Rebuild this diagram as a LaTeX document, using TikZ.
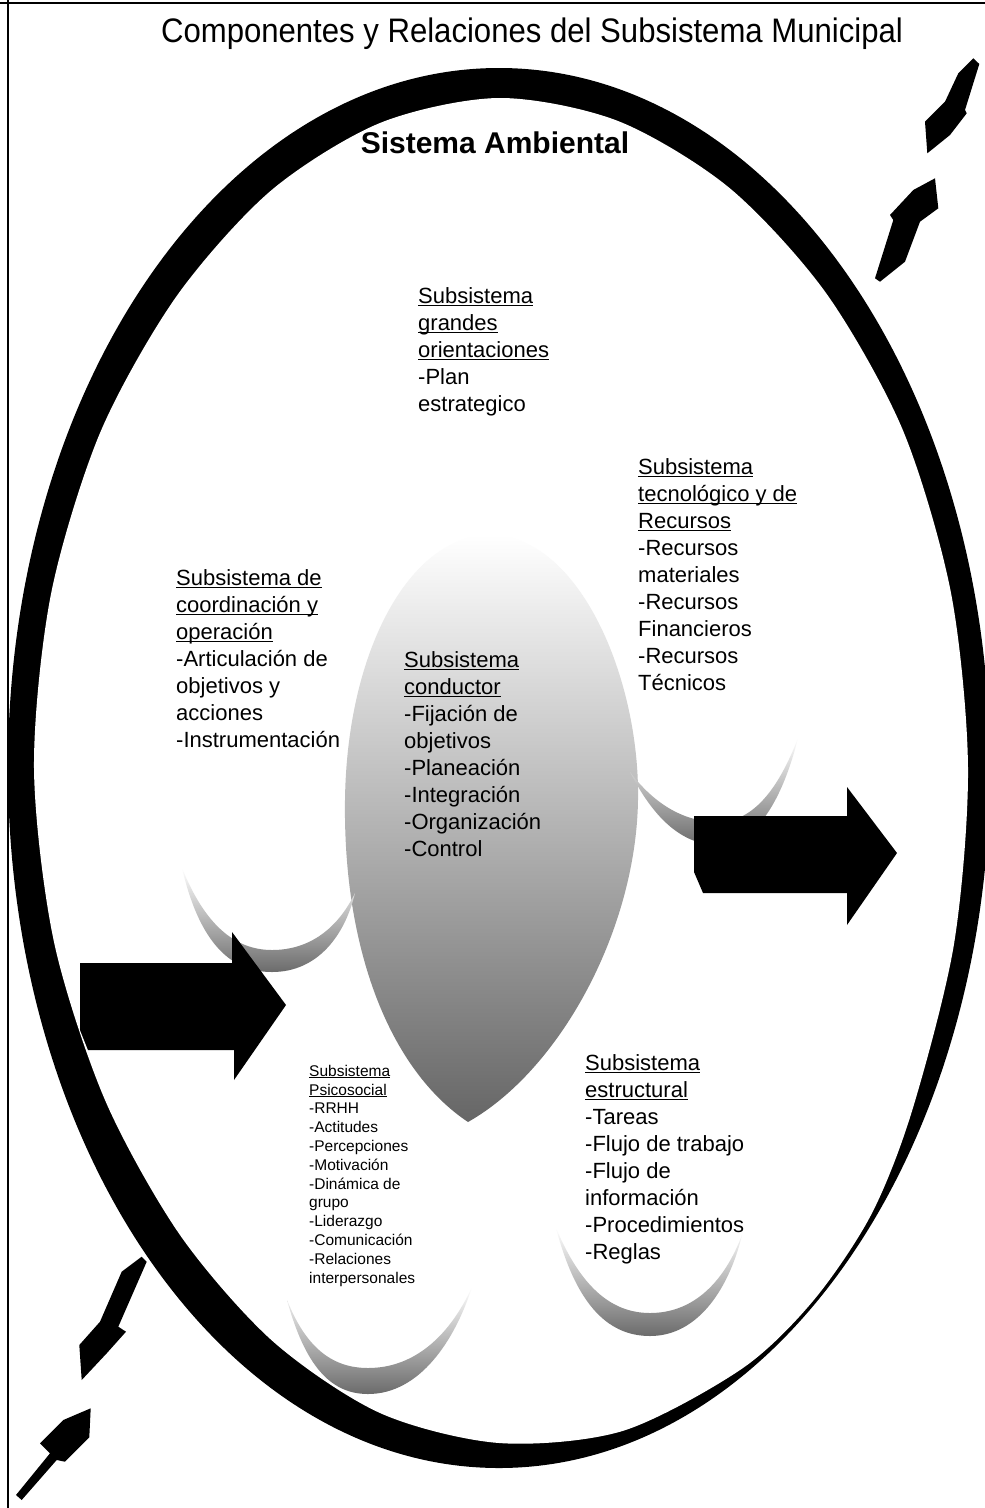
\documentclass[tikz,border=0pt]{standalone}
\usepackage{fontspec}
\usepackage{graphicx}
\setmainfont{Liberation Sans}
\newcommand\ulx[1]{\setbox0\hbox{#1}\rlap{\rule[-0.14em]{\wd0}{0.065em}}\box0}
\begin{document}
\begin{tikzpicture}[x=1pt,y=-1pt,
  body/.style={anchor=base west, align=left, font=\fontsize{22}{27}\selectfont, inner sep=0pt},
  small/.style={anchor=base west, align=left, font=\fontsize{15.5}{18.8}\selectfont, inner sep=0pt},
  bowl/.style={top color=white, bottom color=black!58},
  blk/.style={fill=black}]
\useasboundingbox (0,0) rectangle (985,1508);
\fill[white] (0,0) rectangle (985,1508);
\draw[line width=1.5pt] (0,3) -- (985,3);
\draw[line width=1.5pt] (8,0) -- (8,1508);
% environment ring (crescent)
\fill[black] (499,768) ellipse [x radius=491, y radius=700];
\fill[white] plot[smooth cycle] coordinates {(968,768) (954,944) (912,1111) (871,1215) (813,1301) (741.5,1369) (622.5,1431) (499,1443) (380,1413) (272.5,1341) (180,1235) (105,1100) (54,942) (34,768) (51,594) (100,433) (176,297) (270.5,191) (380,123) (499,98) (618,121) (729.5,188) (826,293) (903,430.5) (951,593)};
% central shape
\shade[top color=white, middle color=black!36, bottom color=black!60] (468,1122) .. controls (390,1070) and (343,950) .. (345,800) .. controls (347,650) and (410,535) .. (490,535) .. controls (580,535) and (640,680) .. (638,800) .. controls (636,930) and (560,1070) .. (468,1122) -- cycle;
% bowls
\shade[bowl] (182,868) .. controls (200,945) and (232,972) .. (272,972) .. controls (318,972) and (345,935) .. (355,893) .. controls (338,928) and (310,950) .. (272,950) .. controls (235,950) and (205,925) .. (182,868) -- cycle;
\shade[bowl] (630,772) .. controls (652,815) and (680,845) .. (718,845) .. controls (760,845) and (785,790) .. (798,738) .. controls (780,785) and (755,822) .. (718,822) .. controls (685,822) and (655,805) .. (630,772) -- cycle;
\shade[bowl] (287,1300) .. controls (305,1365) and (330,1394) .. (368,1394) .. controls (420,1394) and (455,1340) .. (472,1287) .. controls (450,1335) and (415,1368) .. (368,1368) .. controls (330,1368) and (305,1345) .. (287,1300) -- cycle;
\shade[bowl] (556,1228) .. controls (575,1300) and (605,1336) .. (650,1336) .. controls (700,1336) and (730,1285) .. (742,1235) .. controls (725,1280) and (695,1313) .. (650,1313) .. controls (610,1313) and (580,1285) .. (556,1228) -- cycle;
% big arrows
\fill[blk] (80,963) -- (232,963) -- (232,932) -- (286,1005) -- (234,1080) -- (234,1050) -- (88,1050) -- (80,1030) -- cycle;
\fill[blk] (694,816) -- (847,816) -- (847,787) -- (897,853) -- (847,925) -- (847,893) -- (703,893) -- (694,872) -- cycle;
% small arrows top right
\fill[blk] (973.3,58.3) -- (979.3,64) -- (965,110) -- (966.7,113.3) -- (950,135) -- (927.3,153.3) -- (925,121.7) -- (945,101.7) -- (958.3,73.3) -- cycle;
\fill[blk] (935,178.3) -- (938.3,208.3) -- (920,221.7) -- (905,261.7) -- (880,281.7) -- (875,278.3) -- (893.3,220) -- (890,215) -- (913.3,190) -- cycle;
% small arrows bottom left
\fill[blk] (141.7,1256.7) -- (146.7,1261.7) -- (118.3,1326.7) -- (126,1331.7) -- (106.7,1353.3) -- (81.7,1380) -- (79.3,1345) -- (100,1321.7) -- (121.7,1271.7) -- cycle;
\fill[blk] (90.7,1408.3) -- (89.3,1437.3) -- (65,1461.7) -- (56.7,1460) -- (21.7,1500) -- (16,1495) -- (50,1453.3) -- (40,1443.3) -- (63.3,1420) -- cycle;
% texts (anchor = baseline of the last line)
\node[anchor=base, inner sep=0pt, font=\fontsize{34}{40}\selectfont] (title) at (532,42) {\scalebox{0.915}[1]{Componentes y Relaciones del Subsistema Municipal}};
\node[anchor=base, inner sep=0pt, font=\bfseries\fontsize{30}{36}\selectfont] (amb) at (495,153) {Sistema Ambiental};
\node[body] (gran) at (418,411) {\ulx{Subsistema}\\\ulx{grandes}\\\ulx{orientaciones}\\-Plan\\estrategico};
\node[body] (tec) at (638,690) {\ulx{Subsistema}\\\ulx{tecnológico y de}\\\ulx{Recursos}\\-Recursos\\materiales\\-Recursos\\Financieros\\-Recursos\\Técnicos};
\node[body] (coord) at (176,747) {\ulx{Subsistema de}\\\ulx{coordinación y}\\\ulx{operación}\\-Articulación de\\objetivos y\\acciones\\-Instrumentación};
\node[body] (cond) at (404,856) {\ulx{Subsistema}\\\ulx{conductor}\\-Fijación de\\objetivos\\-Planeación\\-Integración\\-Organización\\-Control};
\node[small] (psico) at (309,1283) {\ulx{Subsistema}\\\ulx{Psicosocial}\\-RRHH\\-Actitudes\\-Percepciones\\-Motivación\\-Dinámica de\\grupo\\-Liderazgo\\-Comunicación\\-Relaciones\\interpersonales};
\node[body] (estr) at (585,1259) {\ulx{Subsistema}\\\ulx{estructural}\\-Tareas\\-Flujo de trabajo\\-Flujo de\\información\\-Procedimientos\\-Reglas};
\end{tikzpicture}
\end{document}
